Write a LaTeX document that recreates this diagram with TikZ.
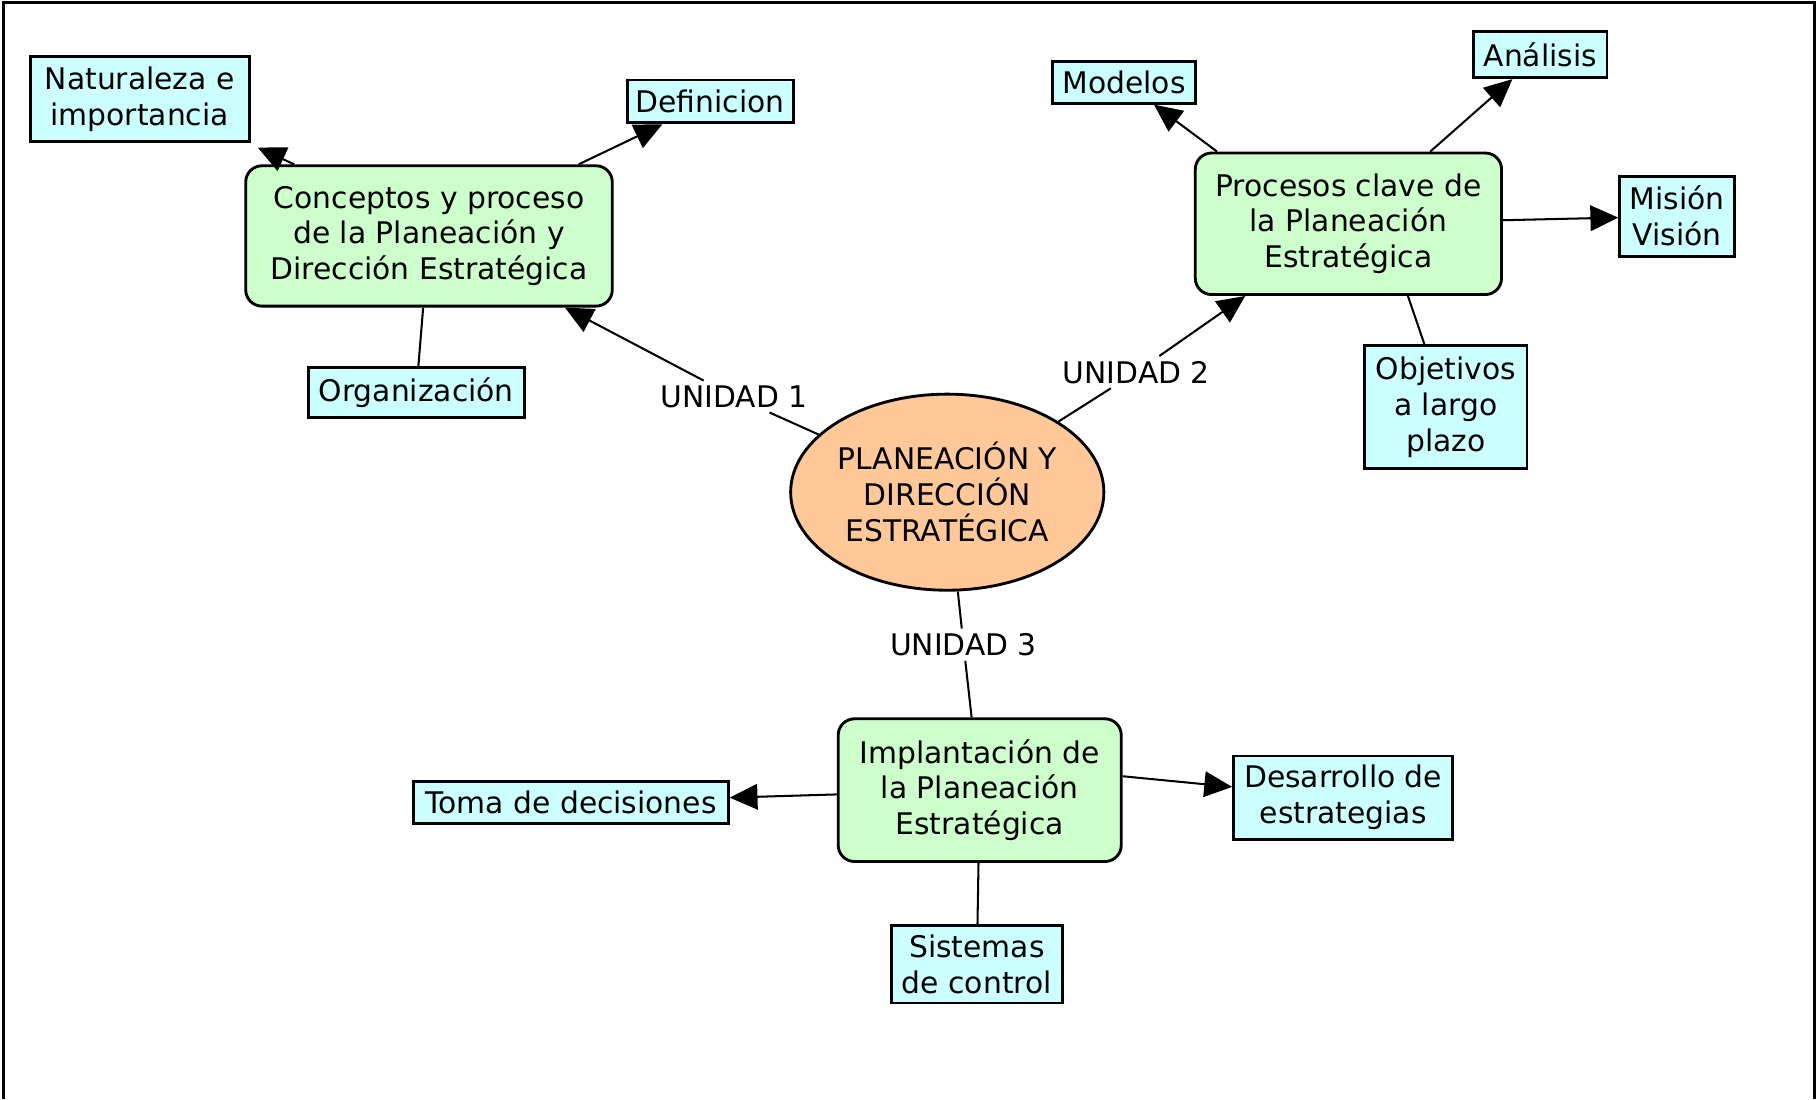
\documentclass[tikz,border=0pt]{standalone}
\usepackage{fontspec}
\setmainfont{DejaVu Sans}
\usetikzlibrary{positioning,arrows.meta,shapes.geometric}

\definecolor{leafcyan}{HTML}{CCFFFF}
\definecolor{unitgreen}{HTML}{CCFFCC}
\definecolor{coreorange}{HTML}{FFC899}

\begin{document}
\begin{tikzpicture}[
    x=0.01cm, y=-0.01cm,
    font=\fontsize{7.3}{8.8}\selectfont,
    leaf/.style={rectangle, draw=black, line width=0.7pt, fill=leafcyan, align=center, inner sep=1pt},
    unitbox/.style={rectangle, rounded corners=4pt, draw=black, line width=0.7pt, fill=unitgreen, align=center, inner sep=1pt},
    core/.style={ellipse, draw=black, line width=0.7pt, fill=coreorange, align=center, inner sep=0pt, minimum width=2.70cm, minimum height=1.69cm},
    linkword/.style={inner sep=1pt, align=center},
    conn/.style={line width=0.5pt, draw=black},
    arr/.style={conn, -{Triangle[length=2.4mm, width=2.2mm]}}
]
\useasboundingbox (0,0) rectangle (1568,948);

% Frame
\draw[line width=0.6pt] (3,948) -- (3,2) -- (1565,2) -- (1565,948);

% Central topic
\node[core] (main) at (817,424.5) {PLANEACIÓN Y\\DIRECCIÓN\\ESTRATÉGICA};

% Units
\node[unitbox, minimum width=3.16cm, minimum height=1.21cm] (conc) at (370,203.5) {Conceptos y proceso\\de la Planeación y\\Dirección Estratégica};
\node[unitbox, minimum width=2.64cm, minimum height=1.22cm] (proc) at (1163,193) {Procesos clave de\\la Planeación\\Estratégica};
\node[unitbox, minimum width=2.44cm, minimum height=1.23cm] (impl) at (845,681.5) {Implantación de\\la Planeación\\Estratégica};

% Linking words
\node[linkword] (u1) at (633,342) {UNIDAD 1};
\node[linkword] (u2) at (980,321) {UNIDAD 2};
\node[linkword] (u3) at (831,556) {UNIDAD 3};

% Unidad 1 leaves
\node[leaf, minimum width=1.89cm, minimum height=0.73cm] (nat) at (120.5,85.5) {Naturaleza e\\importancia};
\node[leaf, minimum width=1.43cm, minimum height=0.37cm] (defi) at (612.5,87.5) {Definicion};
\node[leaf, minimum width=1.86cm, minimum height=0.43cm] (org) at (359,338.5) {Organización};

% Unidad 2 leaves
\node[leaf, minimum width=1.23cm, minimum height=0.36cm] (mod) at (969.5,71) {Modelos};
\node[leaf, minimum width=1.15cm, minimum height=0.40cm] (ana) at (1328.5,47) {Análisis};
\node[leaf, minimum width=0.99cm, minimum height=0.69cm] (mis) at (1446.5,186.5) {Misión\\Visión};
\node[leaf, minimum width=1.40cm, minimum height=1.06cm] (obj) at (1247,351) {Objetivos\\a largo\\plazo};

% Unidad 3 leaves
\node[leaf, minimum width=2.71cm, minimum height=0.36cm] (toma) at (492.5,692) {Toma de decisiones};
\node[leaf, minimum width=1.89cm, minimum height=0.72cm] (des) at (1158.5,688) {Desarrollo de\\estrategias};
\node[leaf, minimum width=1.47cm, minimum height=0.67cm] (sis) at (842.5,831.5) {Sistemas\\de control};

% Core to units
\draw[conn] (main) -- (u1);
\draw[arr] (u1) -- (conc);
\draw[conn] (main) -- (u2);
\draw[arr] (u2) -- (proc);
\draw[conn] (main) -- (u3);
\draw[conn] (u3) -- (impl);

% Unit branches
\draw[arr] (conc.north west) ++(43,0) -- ([shift={(6,4)}]nat.south east);
\draw[arr] (conc) -- (defi);
\draw[conn] (conc) -- (org);
\draw[arr] (proc.north west) ++(20,0) -- (mod);
\draw[arr] (proc) -- (ana);
\draw[arr] (proc) -- (mis);
\draw[conn] (proc.south east) ++(-82,0) -- (obj);
\draw[arr] (impl) -- (toma);
\draw[arr] (impl.east) ++(0,-12) -- (des);
\draw[conn] (impl) -- (sis);

\end{tikzpicture}
\end{document}
